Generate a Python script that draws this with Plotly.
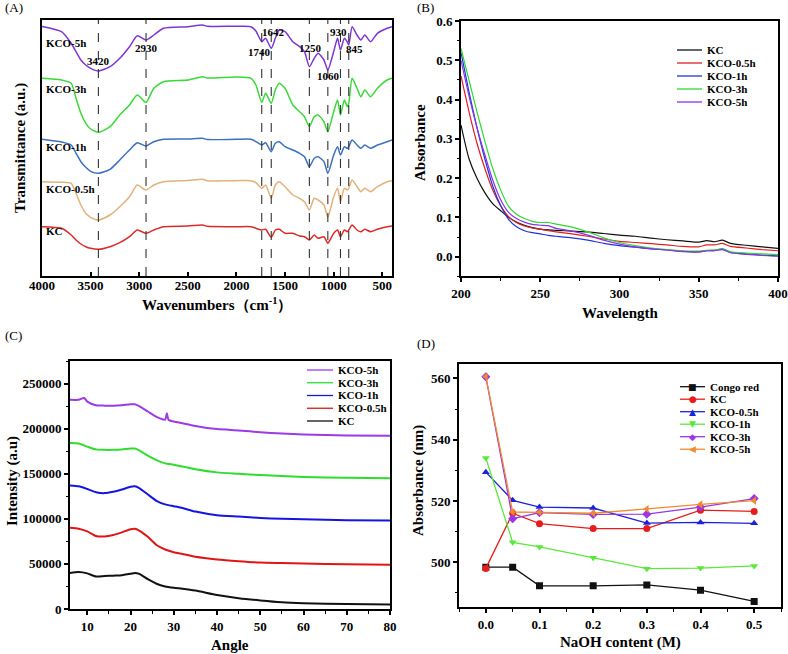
import plotly.graph_objects as go

SERIF = "Liberation Serif"

# ---------------- (A) FTIR ----------------
wavenumber = [4000, 3800, 3700, 3650, 3600, 3550, 3500, 3420, 3300, 3200, 3100, 3020, 2930, 2850,
              2750, 2500, 2350, 2300, 2000, 1850, 1800, 1740, 1700, 1642, 1600, 1560, 1500, 1420,
              1350, 1300, 1250, 1200, 1160, 1100, 1060, 1000, 960, 930, 890, 860, 845, 810, 760,
              720, 680, 620, 550, 450, 400]
ftir_kco5h = [249.5, 244.3, 232.7, 224.3, 216, 211, 207.7, 205, 209.3, 217.7, 229.3, 240.3, 236, 241,
              247.7, 249.3, 251, 249.7, 249.7, 249.3, 245, 234.3, 237.7, 227.7, 237.7, 246, 244.3, 234.3,
              229.3, 224.3, 209.3, 217.7, 222.7, 216, 206, 224.3, 237.7, 226, 237.7, 234, 231, 249.3, 241,
              236, 241, 234.3, 242.7, 247.7, 249.3]
ftir_kco3h = [197.7, 196, 192.7, 177.7, 162.7, 152.7, 147, 143.7, 149.3, 161, 171, 181, 173.7, 187.7,
              194.3, 196, 199.3, 198, 199, 197.7, 191, 173.7, 182.7, 172.7, 186, 192.7, 187.7, 171,
              164.3, 159.3, 149.3, 159.3, 161, 154.3, 144.3, 164.3, 176, 161, 176, 169.3, 172.7, 197.7,
              187.7, 179.3, 186, 179.3, 187.7, 196, 197.7]
ftir_kco1h = [136.7, 134, 131, 122.7, 114.3, 108.7, 104.7, 102.7, 106.7, 116, 126, 133.3, 130, 134.3,
              136.7, 137, 137.7, 136.5, 136.7, 136.7, 134.3, 131, 133.3, 124.3, 132.7, 134.3, 129.3, 126,
              122.7, 119.3, 109.3, 117.7, 119.3, 114.3, 102.7, 121, 129.3, 121, 129.3, 127.7, 129.3, 136,
              131, 127.7, 131, 127.7, 131, 134.3, 136]
ftir_kco05h = [94.3, 93.8, 92.7, 82.7, 71, 62.7, 58.7, 56, 61, 69.3, 79.3, 91, 86, 91,
               94.3, 95.5, 96.7, 95.3, 95.3, 95.3, 93.3, 87.7, 91, 77.7, 91, 94.3, 89.3, 81,
               77.7, 74.3, 66, 77.7, 76, 71, 58.7, 79.3, 87.7, 74.3, 87.7, 86, 87.7, 96,
               89.3, 84.3, 87.7, 84.3, 89.3, 94.3, 95.3]
ftir_kc = [49.3, 47.7, 41, 36, 32, 29.3, 27.7, 26.7, 29.3, 33.3, 39.3, 46, 42.7, 46,
           49.3, 50, 51, 49.7, 49.3, 49.3, 47.7, 46, 46.7, 38.7, 46, 46.7, 42.7, 42.7,
           40, 39.3, 36, 41, 37.7, 39.3, 32.7, 42.7, 46, 39.3, 46, 44.3, 46, 51,
           46, 44.3, 46.7, 44.3, 46.7, 49.3, 50]
ftir_names = ["KCO-5h", "KCO-3h", "KCO-1h", "KCO-0.5h", "KC"]
ftir_series = [ftir_kco5h, ftir_kco3h, ftir_kco1h, ftir_kco05h, ftir_kc]
ftir_colors = ["#7f35d6", "#3ad83a", "#3b70c2", "#e2b27c", "#dc2a2a"]
ftir_label_y = [233, 187, 129, 87, 45]
peaks = [3420, 2930, 1740, 1642, 1250, 1060, 930, 845]
peak_label_x = [3420, 2923, 1765, 1624, 1239, 1057, 947, 786]
peak_label_y = [215, 228, 224, 244, 228, 200, 244, 227]

# ---------------- (B) UV-vis ----------------
wavelength = [200, 205, 210, 215, 220, 225, 230, 235, 240, 245, 250, 255, 260, 270, 280, 290, 300,
              310, 320, 330, 340, 350, 355, 360, 365, 370, 380, 390, 400]
uv_kc = [0.335, 0.25, 0.2, 0.163, 0.135, 0.117, 0.1, 0.088, 0.08, 0.074, 0.07, 0.068, 0.067, 0.065,
         0.063, 0.059, 0.055, 0.052, 0.047, 0.043, 0.04, 0.037, 0.041, 0.038, 0.042, 0.034, 0.029,
         0.025, 0.021]
uv_kco05h = [0.46, 0.37, 0.29, 0.225, 0.17, 0.13, 0.102, 0.087, 0.078, 0.073, 0.07, 0.066, 0.063,
             0.058, 0.052, 0.045, 0.039, 0.036, 0.033, 0.03, 0.026, 0.025, 0.03, 0.03, 0.034, 0.026,
             0.022, 0.018, 0.015]
uv_kco1h = [0.52, 0.42, 0.33, 0.25, 0.18, 0.13, 0.095, 0.076, 0.066, 0.061, 0.058, 0.054, 0.052,
            0.048, 0.042, 0.034, 0.028, 0.024, 0.02, 0.017, 0.014, 0.012, 0.015, 0.016, 0.02, 0.011,
            0.007, 0.004, 0.002]
uv_kco3h = [0.53, 0.45, 0.37, 0.295, 0.225, 0.17, 0.128, 0.108, 0.097, 0.09, 0.087, 0.087, 0.083,
            0.075, 0.063, 0.048, 0.036, 0.028, 0.022, 0.018, 0.015, 0.014, 0.016, 0.017, 0.02, 0.012,
            0.009, 0.007, 0.005]
uv_kco5h = [0.5, 0.41, 0.33, 0.26, 0.195, 0.145, 0.113, 0.097, 0.088, 0.082, 0.08, 0.079, 0.072,
            0.065, 0.055, 0.042, 0.032, 0.025, 0.02, 0.017, 0.013, 0.012, 0.015, 0.015, 0.018, 0.01,
            0.006, 0.003, 0.001]
uv_names = ["KC", "KCO-0.5h", "KCO-1h", "KCO-3h", "KCO-5h"]
uv_series = [uv_kc, uv_kco05h, uv_kco1h, uv_kco3h, uv_kco5h]
uv_colors = ["#111111", "#e02020", "#2035d8", "#30d830", "#8a32e8"]

# ---------------- (C) XRD ----------------
angle = [6, 8, 10, 12, 14, 16, 18, 20, 21, 22, 24, 26, 28, 30, 32, 35, 40, 45, 50, 55, 60, 70, 80]
xrd_kc = [40000, 41000, 39500, 36000, 36500, 37000, 37500, 39000, 40000, 39000, 33000, 28000, 25000,
          23500, 22500, 20500, 15500, 12000, 9500, 7500, 6500, 5500, 5000]
xrd_kco05h = [90000, 89000, 86000, 81000, 80500, 82000, 85000, 88500, 89000, 87000, 80000, 71000,
              66000, 63000, 61000, 58000, 55000, 53000, 51500, 51000, 50500, 49500, 49000]
xrd_kco1h = [137000, 136000, 133000, 129500, 128500, 130000, 132500, 135500, 136000, 134000, 127000,
             120000, 116000, 114000, 112000, 108000, 104000, 102500, 101000, 100000, 99500, 98500, 98000]
xrd_kco3h = [184000, 183500, 180000, 177000, 176500, 176500, 177000, 178000, 178000, 176000, 170000,
             165000, 161500, 160000, 158000, 155000, 151500, 150000, 148500, 147500, 146500, 145500, 145000]
angle_5h = [6, 8, 9.3, 10, 12, 14, 16, 18, 20, 21, 22, 24, 26, 28, 28.4, 28.8, 30, 32, 35, 40, 45,
            50, 55, 60, 70, 80]
xrd_kco5h = [232000, 232000, 234000, 230000, 226000, 225500, 225500, 226000, 227000, 227000, 225000,
             219000, 213000, 210000, 217000, 209500, 208000, 206000, 203000, 199500, 198000, 196000,
             194500, 193500, 192500, 192000]
xrd_names = ["KCO-5h", "KCO-3h", "KCO-1h", "KCO-0.5h", "KC"]
xrd_x = [angle_5h, angle, angle, angle, angle]
xrd_series = [xrd_kco5h, xrd_kco3h, xrd_kco1h, xrd_kco05h, xrd_kc]
xrd_colors = ["#9a3be6", "#2fdc2f", "#1515e0", "#e01515", "#111111"]

# ---------------- (D) Congo red ----------------
naoh = [0, 0.05, 0.1, 0.2, 0.3, 0.4, 0.5]
cr_congo = [498.4, 498.4, 492.3, 492.3, 492.6, 490.9, 487.2]
cr_kc = [498.0, 516.0, 512.6, 511.0, 511.0, 517.0, 516.6]
cr_kco05h = [529.4, 520.2, 518.0, 517.7, 512.8, 513.0, 512.7]
cr_kco1h = [534.0, 506.5, 505.0, 501.5, 497.9, 498.1, 498.8]
cr_kco3h = [560.5, 514.2, 516.2, 515.6, 515.7, 518.0, 520.8]
cr_kco5h = [560.6, 516.4, 516.3, 516.0, 517.4, 518.9, 520.1]
cr_names = ["Congo red", "KC", "KCO-0.5h", "KCO-1h", "KCO-3h", "KCO-5h"]
cr_series = [cr_congo, cr_kc, cr_kco05h, cr_kco1h, cr_kco3h, cr_kco5h]
cr_colors = ["#111111", "#e81c1c", "#1c22d8", "#5ae83a", "#9a35e8", "#f08a2a"]
cr_symbols = ["square", "circle", "triangle-up", "triangle-down", "diamond", "triangle-left"]
cr_glyphs = ["\u25A0", "\u25CF", "\u25B2", "\u25BC", "\u25C6", "\u25C0"]

W, H = 788, 654


def px(x):
    return x / W


def py(y):
    return 1 - y / H


fig = go.Figure()

for name, ys, col in zip(ftir_names, ftir_series, ftir_colors):
    fig.add_trace(go.Scatter(x=wavenumber, y=ys, name=name, mode="lines",
                             line=dict(color=col, width=1.5, shape="spline", smoothing=0.6),
                             xaxis="x", yaxis="y", showlegend=False))

for name, ys, col in zip(uv_names, uv_series, uv_colors):
    fig.add_trace(go.Scatter(x=wavelength, y=ys, name=name, mode="lines",
                             line=dict(color=col, width=1.2, shape="spline", smoothing=0.6),
                             xaxis="x2", yaxis="y2", showlegend=False))

for name, xs, ys, col in zip(xrd_names, xrd_x, xrd_series, xrd_colors):
    fig.add_trace(go.Scatter(x=xs, y=ys, name=name, mode="lines",
                             line=dict(color=col, width=2, shape="spline", smoothing=0.6),
                             xaxis="x3", yaxis="y3", showlegend=False))

for name, ys, col, sym in zip(cr_names, cr_series, cr_colors, cr_symbols):
    fig.add_trace(go.Scatter(x=naoh, y=ys, name=name, mode="lines+markers",
                             line=dict(color=col, width=1.3),
                             marker=dict(symbol=sym, size=7, color=col),
                             xaxis="x4", yaxis="y4", showlegend=False))

tickfont = dict(family=SERIF, size=13, color="black", weight="bold")
titlefont = dict(family=SERIF, size=15, color="black", weight="bold")
base = dict(showline=True, mirror=True, linecolor="black", linewidth=2, showgrid=False,
            zeroline=False, ticks="outside", ticklen=4, tickwidth=1.5, tickcolor="black",
            tickfont=tickfont, automargin=False)
minor_style = dict(ticks="outside", ticklen=2.5, tickwidth=1.2, tickcolor="black")

shapes = []
annotations = []


def note(text, x, y, font, xref="paper", yref="paper", xanchor="center", angle=0):
    annotations.append(dict(xref=xref, yref=yref, x=x, y=y, text=text, showarrow=False,
                            xanchor=xanchor, yanchor="middle", textangle=angle, font=font))


# dashed peak markers in (A)
for wn in peaks:
    shapes.append(dict(type="line", xref="x", yref="y domain", x0=wn, x1=wn, y0=0, y1=1,
                       line=dict(color="#333333", width=1.1, dash="dash")))
peakfont = dict(family=SERIF, size=11, color="black", weight="bold")
for txt, lx, ly in zip(peaks, peak_label_x, peak_label_y):
    note(str(txt), lx, ly, peakfont, xref="x", yref="y")
for name, ly in zip(ftir_names, ftir_label_y):
    note(name, px(44), ly, peakfont, yref="y", xanchor="left")

# panel letters
for lab, lx, ly in [("(A)", 3, 8), ("(B)", 415, 8), ("(C)", 3, 335), ("(D)", 415, 343)]:
    note(lab, px(lx), py(ly), dict(family=SERIF, size=13, color="black"), xanchor="left")

# axis titles
for txt, tx, ty, ang in [("Wavenumbers（cm<sup>-1</sup>）", 217, 304, 0),
                         ("Transmittance (a.u.)", 20, 148, -90),
                         ("Wavelength", 620, 313, 0),
                         ("Absorbance", 420, 143, -90),
                         ("Angle", 230, 645, 0),
                         ("Intensity (a.u)", 12, 481, -90),
                         ("NaOH content (M)", 620, 642, 0),
                         ("Absorbance (nm)", 418, 481, -90)]:
    note(txt, px(tx), py(ty), titlefont, angle=ang)

legfont = dict(family=SERIF, size=11, color="black", weight="bold")


def legend_block(names, colors, x0, x1, xt, ytop, dy, glyphs=None):
    for i, (name, col) in enumerate(zip(names, colors)):
        yy = ytop + i * dy
        shapes.append(dict(type="line", xref="paper", yref="paper", x0=px(x0), x1=px(x1),
                           y0=py(yy), y1=py(yy), line=dict(color=col, width=1.3)))
        note(name, px(xt), py(yy), legfont, xanchor="left")
        if glyphs:
            note(glyphs[i], px((x0 + x1) / 2), py(yy),
                 dict(family="DejaVu Sans", size=9, color=col))


legend_block(uv_names, uv_colors, 677, 702, 705, 50, 13)
legend_block(xrd_names, xrd_colors, 307, 333, 336, 370, 12.75)
legend_block(cr_names, cr_colors, 680, 705, 708, 386.7, 12.5, cr_glyphs)

fig.update_layout(
    width=W, height=H, margin=dict(l=0, r=0, t=0, b=0),
    paper_bgcolor="white", plot_bgcolor="white", showlegend=False,
    xaxis=dict(base, domain=[px(42), px(392)], range=[4000, 400], dtick=500, ticks="inside",
               ticklabelstandoff=-4, anchor="y"),
    yaxis=dict(base, domain=[py(276), py(20)], range=[0, 256], ticks="", showticklabels=False,
               anchor="x"),
    xaxis2=dict(base, domain=[px(461), px(778)], range=[200, 400], dtick=50, anchor="y2",
                minor=dict(minor_style, dtick=25)),
    yaxis2=dict(base, domain=[py(276.3), py(21)], range=[-0.05, 0.6], dtick=0.1, tickformat=".1f",
                anchor="x2", minor=dict(minor_style, dtick=0.05)),
    xaxis3=dict(base, domain=[px(70), px(390)], range=[6, 80], dtick=10, anchor="y3",
                minor=dict(minor_style, dtick=5)),
    yaxis3=dict(base, domain=[py(609), py(361)], range=[0, 275000], dtick=50000, tickformat="d",
                anchor="x3", minor=dict(minor_style, dtick=25000)),
    xaxis4=dict(base, domain=[px(459), px(781)], range=[-0.05, 0.55], dtick=0.1, tick0=0,
                tickformat=".1f", anchor="y4", minor=dict(minor_style, dtick=0.05)),
    yaxis4=dict(base, domain=[py(607.3), py(364.3)], range=[485.3, 564.6], dtick=20, tick0=500,
                anchor="x4", minor=dict(minor_style, dtick=10, tick0=500)),
    shapes=shapes,
    annotations=annotations,
)

# the page's default body margin would shift the 788x654 figure off the window
fig.write_html("out.html", config={"displayModeBar": False},
               post_script="document.body.style.margin='0';")
